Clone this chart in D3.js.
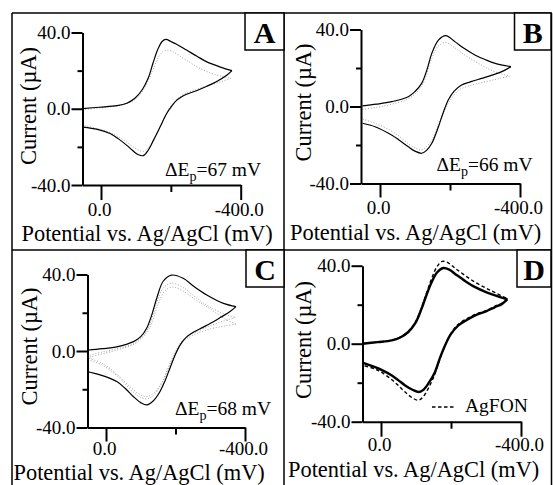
<!DOCTYPE html>
<html><head><meta charset="utf-8">
<script src="https://cdn.jsdelivr.net/npm/d3@7"></script>
<style>
html,body{margin:0;padding:0;background:#fff;}
svg{display:block;font-family:"Liberation Serif","Times New Roman",serif;}
</style></head><body>
<svg id="chart" width="553" height="485"></svg>
<script>
// ---- tick values ----
const yMajorTicks = [-40, 0, 40];
const yMinorTicks = [-20, 20];
const xMajorTicks = [0, -400];
const xMinorTicks = [-200];

const panelLetters = ["A", "B", "C", "D"];
const peakSeparations = [67, 66, 68];   // mV, panels A-C
const legendLabel = "AgFON";

// ---- voltammograms: [potential (mV), current (µA)] ----
// Panel A
const aFwd = [[53,0.1],[5,0.8],[-46,1.6],[-74,2.9],[-97,5.5],[-117,9.7],[-135,16],[-149,24],[-163,31.3],[-175,35.3],[-186,36.4],[-200,35.3],[-215,34],[-245,30.8],[-275,27.5],[-303,24.6],[-340,22],[-375,20]];
const aRev = [[-375,20],[-360,17.6],[-330,14.2],[-303,11.8],[-275,9.6],[-245,7.6],[-230,6.2],[-217,4.5],[-203,1.5],[-188,-2.5],[-169,-9.6],[-150,-16.6],[-136,-21.5],[-121,-24.6],[-106,-24],[-90,-21.8],[-74,-19.2],[-50,-15.8],[-26,-13],[10,-10.8],[52,-9.6]];
const aScanFwd = [[53,-0.5],[10,0.3],[-40,1.3],[-75,2.8],[-100,5.2],[-120,9.5],[-137,15.5],[-152,22],[-166,27.5],[-180,30.3],[-192,30.8],[-210,29.5],[-240,26],[-275,22],[-310,19],[-345,17],[-372,16]];
const aScanRev = [[-372,16],[-345,14.3],[-310,12.3],[-275,10.2],[-245,8.3],[-220,5.5],[-200,1.5],[-185,-3.5],[-168,-10],[-150,-16.5],[-135,-20.5],[-121,-22.3],[-105,-21.5],[-85,-19],[-60,-15.8],[-30,-12.8],[10,-10.5],[53,-8.5]];

// Panel B
const bFwd = [[50,0.3],[10,1.2],[-33,2.5],[-81,5.1],[-100,7.8],[-119,12],[-134,19],[-148,27.6],[-167,34.5],[-188,36.8],[-214,33.7],[-240,30.2],[-271,26.8],[-300,24.4],[-329,22.4],[-374,20.7]];
const bRev = [[-374,20.7],[-348,18.1],[-320,16.3],[-290,14.6],[-260,12.9],[-233,11.2],[-212,8],[-195,3.4],[-180,-3.5],[-167,-10.5],[-148,-19.1],[-133,-22.8],[-119,-24.3],[-100,-23.2],[-81,-20.9],[-55,-17.5],[-33,-14.8],[14,-10.5],[50,-8.7]];
const bScanFwd = [[50,-1.5],[10,-0.5],[-33,1.2],[-81,4],[-119,10.5],[-148,25],[-167,31.5],[-188,33.2],[-214,30.5],[-240,27],[-271,23.5],[-300,20.5],[-329,18],[-370,15.8]];
const bScanRev = [[-370,15.8],[-340,14.5],[-300,12.8],[-260,11],[-225,8.5],[-200,3],[-182,-3],[-167,-9],[-148,-17.5],[-119,-22.5],[-100,-21.5],[-81,-19.3],[-40,-13.5],[10,-9],[50,-6.5]];

// Panel C
const cFwd = [[54,0.4],[10,1.2],[-31,2.2],[-79,4.9],[-100,7.5],[-117,11.9],[-132,19],[-146,27.6],[-165,36.6],[-189,39.7],[-222,38],[-255,33.5],[-290,29.3],[-338,24.9],[-374,23.2]];
const cRev = [[-374,23.2],[-357,20.6],[-330,17.6],[-309,15.3],[-280,12.5],[-251,9.8],[-230,7],[-213,3.1],[-198,-2.5],[-184,-9],[-170,-15.5],[-155,-21.3],[-135,-26.3],[-117,-28.2],[-100,-27],[-79,-23.9],[-55,-19.5],[-31,-16],[17,-12.5],[54,-10.8]];
const cScan1Fwd = [[54,-2.5],[10,-0.5],[-31,1.2],[-79,4],[-117,10.5],[-146,25],[-165,33],[-189,35.5],[-222,33.2],[-255,28.5],[-290,24],[-338,19.5],[-372,17.5]];
const cScan1Rev = [[-372,17.5],[-340,15.8],[-300,13.2],[-260,10],[-225,6.5],[-205,1.5],[-184,-6.5],[-160,-17],[-135,-23.5],[-117,-25],[-95,-23.8],[-70,-20],[-35,-13.5],[10,-7.5],[54,-4.5]];
const cScan2Fwd = [[54,-3.5],[0,-1],[-50,1.5],[-90,4.5],[-125,12],[-150,24.5],[-170,31.5],[-192,33.5],[-225,31],[-260,26.5],[-300,22],[-340,17],[-374,14]];
const cScan2Rev = [[-374,14],[-340,13],[-300,11.5],[-260,9],[-225,5.5],[-205,0.5],[-186,-6.5],[-162,-16],[-138,-22],[-118,-23.8],[-95,-22.5],[-65,-18],[-30,-12],[10,-6.5],[54,-3.5]];

// Panel D
const dFwd = [[53,0],[10,0.8],[-31,1.7],[-55,3.2],[-78,6],[-98,10.5],[-116,18],[-130,25],[-145,31.6],[-160,36.5],[-178,38.8],[-195,38],[-211,35.9],[-240,32.2],[-269,29],[-300,26.5],[-326,24.8],[-361,22.7]];
const dRev = [[-361,22.7],[-345,20.3],[-326,18.8],[-300,16.6],[-269,14.5],[-245,12.2],[-221,9.4],[-200,5],[-183,-0.9],[-168,-7.5],[-154,-14.6],[-135,-20.5],[-120,-23.8],[-107,-24.8],[-90,-23.6],[-69,-21.4],[-50,-18.8],[-31,-16.3],[0,-13.3],[17,-12],[53,-9.7]];
const agfonFwd = [[53,0],[10,0.8],[-31,1.8],[-55,3.4],[-78,6.3],[-98,11],[-116,18.6],[-130,26],[-145,33.5],[-160,39.5],[-175,42.2],[-192,41.5],[-211,38.8],[-240,35],[-269,31.5],[-300,28.5],[-326,26.2],[-361,23]];
const agfonRev = [[-361,23],[-345,20.7],[-326,19.3],[-300,17],[-269,15],[-245,12.8],[-221,10],[-200,5.3],[-183,-0.8],[-168,-8],[-154,-15.5],[-135,-23],[-120,-27.3],[-107,-29],[-90,-27.8],[-69,-24.8],[-50,-21.5],[-31,-18.5],[0,-14.5],[17,-13],[53,-11]];

// ---- panel layout (pixels) ----
const layouts = [
  {yAxisX:82.5, x0:101, x400:240.7, y40:32.5, yM40:185,   tick:15, pad:3,   box:[245,13,39,37],     xTitle:[21.5,241], yTitle:[36,106],    note:[165,176]},
  {yAxisX:361,  x0:380, x400:520,   y40:29.5, yM40:183.5, tick:14, pad:3,   box:[514.5,13,36.5,37], xTitle:[290,240],  yTitle:[311,102.5], note:[436.5,170.5]},
  {yAxisX:87.5, x0:106, x400:245,   y40:274.5,yM40:427.5, tick:14, pad:0.5, box:[246,250,38,37],    xTitle:[13.5,479.8], yTitle:[37,346.5], note:[175,414.5]},
  {yAxisX:362.5,x0:381, x400:521,   y40:265.7,yM40:421.7, tick:15, pad:1.3, box:[517,250,34,37],    xTitle:[288,476.5],yTitle:[311,340],   legend:[432,456,407,465,412]}
];

const black = [[aFwd,aRev],[bFwd,bRev],[cFwd,cRev],[dFwd,dRev]];
const gray = [
  [[aScanFwd,aScanRev]],
  [[bScanFwd,bScanRev]],
  [[cScan1Fwd,cScan1Rev],[cScan2Fwd,cScan2Rev]],
  []
];

const svg = d3.select("#chart");
const fmt = d => d.toFixed(1);

// frame: outer border and dividers
const frame = svg.append("g").attr("stroke","#000").attr("stroke-width",1.5).attr("fill","none");
frame.append("line").attr("x1",12).attr("y1",13).attr("x2",551.5).attr("y2",13);
frame.append("line").attr("x1",12).attr("y1",250).attr("x2",551.5).attr("y2",250);
frame.append("line").attr("x1",12).attr("y1",13).attr("x2",12).attr("y2",485);
frame.append("line").attr("x1",284).attr("y1",13).attr("x2",284).attr("y2",485);
frame.append("line").attr("x1",551.5).attr("y1",13).attr("x2",551.5).attr("y2",485);

layouts.forEach((L, i) => {
  const g = svg.append("g");
  const x = d3.scaleLinear().domain([0, -400]).range([L.x0, L.x400]);
  const y = d3.scaleLinear().domain([-40, 40]).range([L.yM40, L.y40]);
  const vLeft = x.invert(L.yAxisX);
  const xa = x.copy().domain([vLeft, -400]).range([L.yAxisX, L.x400]);

  const line = d3.line().x(d => x(d[0])).y(d => y(d[1])).curve(d3.curveCatmullRom.alpha(0.5));

  // repeated scans (dotted grey)
  gray[i].forEach(scan => scan.forEach(branch => {
    g.append("path").attr("d", line(branch)).attr("fill","none")
      .attr("stroke","#a3a3a3").attr("stroke-width",1).attr("stroke-dasharray","1,1.8");
  }));

  if (i === 3) {
    [agfonFwd, agfonRev].forEach(branch => {
      g.append("path").attr("d", line(branch)).attr("fill","none")
        .attr("stroke","#000").attr("stroke-width",1.4).attr("stroke-dasharray","3.5,2.5");
    });
  }

  black[i].forEach(branch => {
    g.append("path").attr("d", line(branch)).attr("fill","none")
      .attr("stroke","#000").attr("stroke-width", i === 3 ? 2.4 : 1.2);
  });

  // axes
  const styleAxis = sel => {
    sel.attr("font-family", null).attr("font-size", null);
    sel.selectAll("path,line").attr("stroke","#000").attr("stroke-width",2);
    sel.selectAll("text").attr("fill","#000").style("font-size","19px");
  };
  g.append("g").attr("transform",`translate(0,${L.yM40})`)
    .call(d3.axisBottom(xa).tickValues(xMinorTicks).tickSize(7).tickSizeOuter(0).tickFormat(""))
    .call(s => s.select(".domain").remove()).call(styleAxis);
  g.append("g").attr("transform",`translate(0,${L.yM40})`)
    .call(d3.axisBottom(xa).tickValues(xMajorTicks).tickSize(L.tick).tickPadding(L.pad).tickSizeOuter(0).tickFormat(fmt))
    .call(styleAxis)
    .call(s => s.selectAll("text").attr("dx", -2));
  g.append("g").attr("transform",`translate(${L.yAxisX},0)`)
    .call(d3.axisLeft(y).tickValues(yMinorTicks).tickSize(5).tickSizeOuter(0).tickFormat(""))
    .call(s => s.select(".domain").remove()).call(styleAxis);
  g.append("g").attr("transform",`translate(${L.yAxisX},0)`)
    .call(d3.axisLeft(y).tickValues(yMajorTicks).tickSize(11).tickPadding(1).tickSizeOuter(0).tickFormat(fmt))
    .call(styleAxis);

  // axis titles
  g.append("text").attr("x", L.xTitle[0]).attr("y", L.xTitle[1])
    .attr("font-size", 22.4).text("Potential vs. Ag/AgCl (mV)");
  g.append("text").attr("transform", `translate(${L.yTitle[0]},${L.yTitle[1]}) rotate(-90)`)
    .attr("text-anchor","middle").attr("font-size", 22.4).text("Current (µA)");

  // panel letter box
  const [bx, by, bw, bh] = L.box;
  g.append("rect").attr("x",bx).attr("y",by).attr("width",bw).attr("height",bh)
    .attr("fill","#fff").attr("stroke","#000").attr("stroke-width",1.5);
  g.append("text").attr("x", bx + bw/2).attr("y", by + 29.5).attr("text-anchor","middle")
    .attr("font-size", 30).attr("font-weight","bold").text(panelLetters[i]);

  // peak separation note
  if (L.note) {
    const t = g.append("text").attr("x", L.note[0]).attr("y", L.note[1]).attr("font-size", 19.5);
    t.append("tspan").text("ΔE");
    t.append("tspan").attr("font-size", 14).attr("dy", 5).text("p");
    t.append("tspan").attr("dy", -5).text("=" + peakSeparations[i] + " mV");
  }

  // legend
  if (L.legend) {
    const [lx1, lx2, ly, tx, ty] = L.legend;
    g.append("line").attr("x1",lx1).attr("x2",lx2).attr("y1",ly).attr("y2",ly)
      .attr("stroke","#000").attr("stroke-width",1.4).attr("stroke-dasharray","3.5,2.5");
    g.append("text").attr("x",tx).attr("y",ty).attr("font-size",19.5).text(legendLabel);
  }
});
</script>
</body></html>
